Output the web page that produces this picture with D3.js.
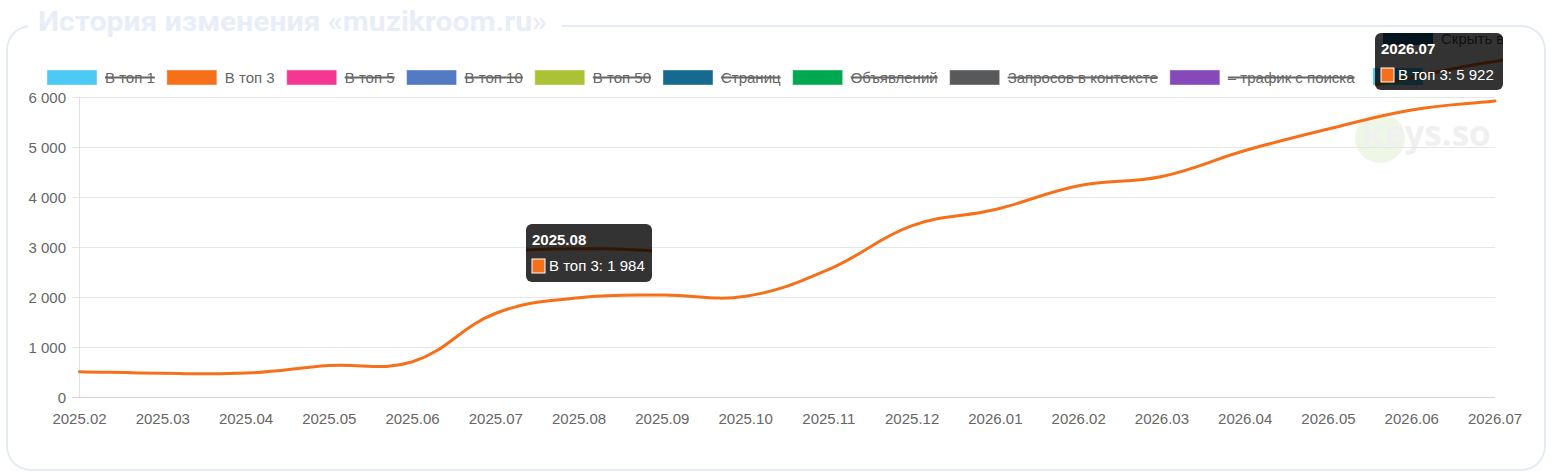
<!DOCTYPE html>
<html><head><meta charset="utf-8">
<script src="https://cdn.jsdelivr.net/npm/d3@7/dist/d3.min.js"></script>
<style>
html,body{margin:0;padding:0;background:#fff;}
svg{display:block;font-family:"Liberation Sans",Arial,Helvetica,sans-serif;}
</style></head>
<body>
<svg id="c" width="1552" height="473"></svg>
<script>
const months = ["2025.02","2025.03","2025.04","2025.05","2025.06","2025.07","2025.08","2025.09","2025.10","2025.11","2025.12","2026.01","2026.02","2026.03","2026.04","2026.05","2026.06","2026.07"];
const top3 = [507,473,478,630,705,1675,1984,2040,2015,2553,3427,3750,4225,4410,4930,5360,5740,5922];
const yTicks = [0,1000,2000,3000,4000,5000,6000];
const legendNames = ["В топ 1","В топ 3","В топ 5","В топ 10","В топ 50","Страниц","Объявлений","Запросов в контексте","– трафик с поиска"];
const legendColors = ["#4dc9f6","#f67019","#f53794","#537bc4","#acc236","#166a8f","#00a950","#58595b","#8549ba"];
const legendHidden = [true,false,true,true,true,true,true,true,true];
const tooltips = [{month:"2025.08", value:1984}, {month:"2026.07", value:5922}];
const titleText = "История изменения «muzikroom.ru»";

// Chart.js-style spline (tension 0.4) as a d3 curve factory
function chartSpline(context){
  const t = 0.4; let pts;
  return {
    areaStart(){}, areaEnd(){},
    lineStart(){ pts = []; },
    point(x,y){ pts.push([x,y]); },
    lineEnd(){
      const n = pts.length; if (!n) return;
      const cp = pts.map((p,i)=>{
        const a = pts[Math.max(0,i-1)], b = p, c = pts[Math.min(n-1,i+1)];
        const d01 = Math.hypot(b[0]-a[0], b[1]-a[1]);
        const d12 = Math.hypot(c[0]-b[0], c[1]-b[1]);
        let s01 = d01/(d01+d12), s12 = d12/(d01+d12);
        if (!isFinite(s01)) s01 = 0; if (!isFinite(s12)) s12 = 0;
        const fa = t*s01, fb = t*s12;
        return {prev:[b[0]-fa*(c[0]-a[0]), b[1]-fa*(c[1]-a[1])],
                next:[b[0]+fb*(c[0]-a[0]), b[1]+fb*(c[1]-a[1])]};
      });
      context.moveTo(pts[0][0], pts[0][1]);
      for (let i=1;i<n;i++){
        context.bezierCurveTo(cp[i-1].next[0], cp[i-1].next[1], cp[i].prev[0], cp[i].prev[1], pts[i][0], pts[i][1]);
      }
    }
  };
}

const svg = d3.select("#c");
const fmt = v => d3.format(",")(v).replace(/,/g, " ");

// card
svg.append("rect").attr("x",7).attr("y",26).attr("width",1538).attr("height",444)
  .attr("rx",24).attr("fill","#fff").attr("stroke","#e4ebf6").attr("stroke-width",2);
svg.append("rect").attr("x",28).attr("y",0).attr("width",534).attr("height",40).attr("fill","#fff");
const title = svg.append("text").attr("x",38).attr("y",31)
  .attr("font-family","Roboto, 'Open Sans', sans-serif").attr("font-weight",700)
  .attr("font-size",27).attr("fill","#e7eef8").text(titleText);
title.attr("textLength", 509).attr("lengthAdjust","spacingAndGlyphs");

const x = d3.scalePoint().domain(months).range([79.5,1495]);
const y = d3.scaleLinear().domain([0,6000]).range([397,97]);

// watermark
svg.append("circle").attr("cx",1380).attr("cy",138).attr("r",25).attr("fill","#eef7e5");
svg.append("text").attr("x",1362).attr("y",146).attr("font-family","'Open Sans', sans-serif")
  .attr("font-weight",700).attr("font-size",35).attr("fill","#f0f0f0").text("keys.so");

// grid
const gy = svg.append("g");
yTicks.forEach(t=>{
  gy.append("line").attr("x1",72).attr("x2",1495).attr("y1",y(t)+0.5).attr("y2",y(t)+0.5)
    .attr("stroke", t===0 ? "#d4d4d4" : "#e6e6e6").attr("stroke-width",1);
  gy.append("text").attr("x",66).attr("y",y(t)+5.5).attr("text-anchor","end")
    .attr("font-size",15).attr("fill","#666").text(fmt(t));
});
svg.append("line").attr("x1",79.5).attr("x2",79.5).attr("y1",97).attr("y2",397)
  .attr("stroke","#e0e0e0");
months.forEach(m=>{
  svg.append("text").attr("x",x(m)).attr("y",424).attr("text-anchor","middle")
    .attr("font-size",15).attr("fill","#666").text(m);
});

// line
const line = d3.line().x((d,i)=>x(months[i])).y(d=>y(d)).curve(chartSpline);
svg.append("path").datum(top3).attr("d",line).attr("fill","none")
  .attr("stroke","#f67019").attr("stroke-width",3).attr("stroke-linecap","round");

// legend
let lx = 47;
const lg = svg.append("g");
legendNames.forEach((n,i)=>{
  lg.append("rect").attr("x",lx).attr("y",70).attr("width",50).attr("height",15)
    .attr("fill",legendColors[i]).attr("stroke","#fff").attr("stroke-opacity",0.4);
  const tx = lx+58;
  const t = lg.append("text").attr("x",tx).attr("y",83).attr("font-size",15)
    .attr("fill","#666").text(n);
  const w = t.node().getComputedTextLength();
  if (legendHidden[i]) {
    lg.append("line").attr("x1",tx).attr("x2",tx+w).attr("y1",77.5).attr("y2",77.5)
      .attr("stroke","#666").attr("stroke-width",2);
  }
  lx = tx + w + 12;
});
// next (overflowing) legend box behind tooltip
lg.append("rect").attr("x",1373).attr("y",68).attr("width",50).attr("height",17).attr("fill","#4dc9f6");

// ghost layer beneath tooltips
const xg = d3.scalePoint().domain(months).range([-89,1595]);
const yg = d3.scaleLinear().domain([0,6000]).range([352,48]);
const ghost = d3.line().x((d,i)=>xg(months[i])).y(d=>yg(d)).curve(chartSpline);

const tipBoxes = [{x:526,y:224,w:126,h:58},{x:1375,y:33,w:128,h:57}];
const defs = svg.append("defs");
tipBoxes.forEach((b,i)=>{
  defs.append("clipPath").attr("id","tc"+i).append("rect")
    .attr("x",b.x).attr("y",b.y).attr("width",b.w).attr("height",b.h).attr("rx",6);
});

tooltips.forEach((tp,i)=>{
  const b = tipBoxes[i];
  const g = svg.append("g");
  const inner = g.append("g").attr("clip-path","url(#tc"+i+")");
  inner.append("rect").attr("x",b.x).attr("y",b.y).attr("width",b.w).attr("height",b.h).attr("fill","#fff");
  if (i===1) {
    inner.append("rect").attr("x",1383).attr("y",20).attr("width",50).attr("height",25).attr("fill","#166a8f");
    inner.append("rect").attr("x",1373).attr("y",68).attr("width",50).attr("height",17).attr("fill","#4dc9f6");
    inner.append("text").attr("x",1441).attr("y",44).attr("font-size",15).attr("fill","#555").text("Скрыть все");
  }
  inner.append("path").datum(top3).attr("d",ghost).attr("fill","none")
    .attr("stroke","#f67019").attr("stroke-width",3);
  g.append("rect").attr("x",b.x).attr("y",b.y).attr("width",b.w).attr("height",b.h)
    .attr("rx",6).attr("fill","rgba(0,0,0,0.8)");
  g.append("text").attr("x",b.x+6).attr("y",b.y+21).attr("font-size",15).attr("font-weight",700)
    .attr("fill","#fff").text(tp.month);
  g.append("rect").attr("x",b.x+6).attr("y",b.y+35).attr("width",13).attr("height",14)
    .attr("fill","#f67019").attr("stroke","#fff").attr("stroke-width",1);
  g.append("text").attr("x",b.x+23).attr("y",b.y+47).attr("font-size",15)
    .attr("fill","#fff").text("В топ 3: " + fmt(tp.value));
});
</script>
</body></html>
